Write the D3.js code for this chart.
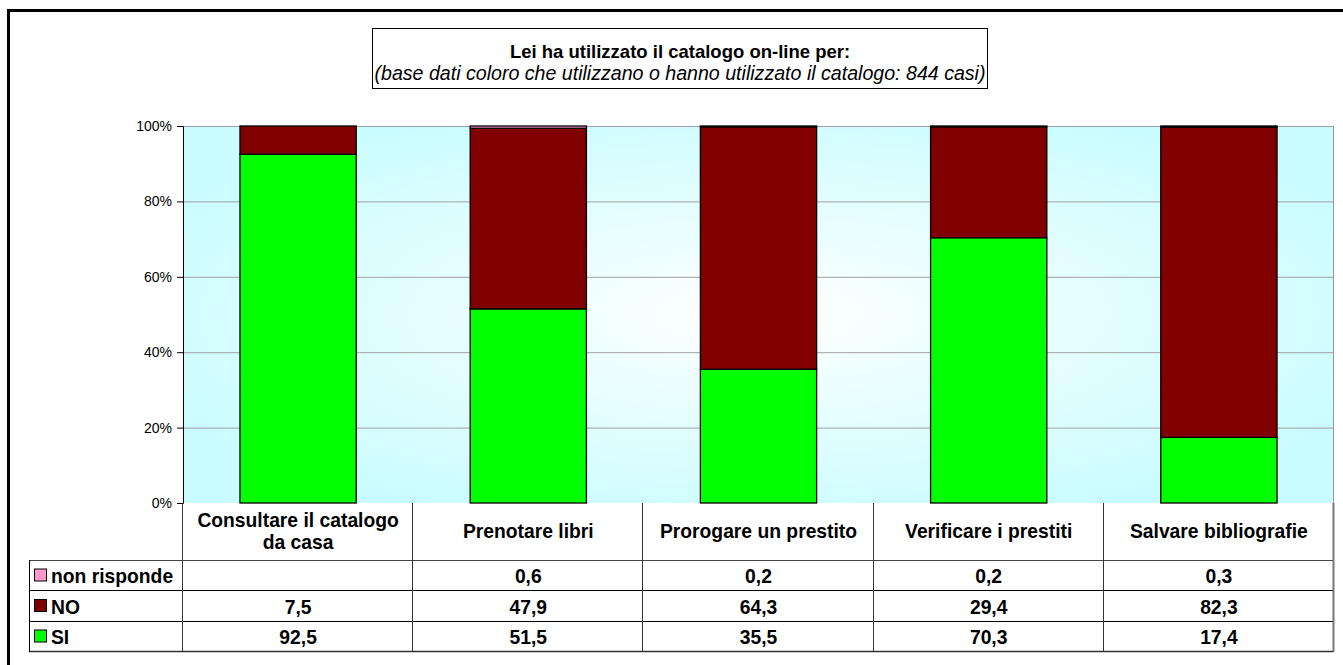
<!DOCTYPE html>
<html><head><meta charset="utf-8">
<script src="https://cdn.jsdelivr.net/npm/d3@7/dist/d3.min.js"></script>
<style>body{margin:0;background:#fff;font-family:"Liberation Sans",Arial,sans-serif;}</style>
</head><body><svg id="c" width="1343" height="665"></svg>
<script>
const categories = ["Consultare il catalogo|da casa","Prenotare libri","Prorogare un prestito","Verificare i prestiti","Salvare bibliografie"];
const seriesNames = ["SI","NO","non risponde"];
const siValues = [92.5,51.5,35.5,70.3,17.4];
const noValues = [7.5,47.9,64.3,29.4,82.3];
const nrValues = [null,0.6,0.2,0.2,0.3];
const seriesColors = ["#00FF00","#800000","#FF99CC"];
const yTicks = [0,0.2,0.4,0.6,0.8,1];
const titleText = "Lei ha utilizzato il catalogo on-line per:";
const subtitleText = "(base dati coloro che utilizzano o hanno utilizzato il catalogo: 844 casi)";

const svg = d3.select("#c");
const defs = svg.append("defs");
const rg = defs.append("radialGradient").attr("id","bg").attr("cx","50%").attr("cy","50%").attr("r","60%");
rg.append("stop").attr("offset","0%").attr("stop-color","#FFFFFF");
rg.append("stop").attr("offset","100%").attr("stop-color","#C8FCFF");

// outer frame
svg.append("path").attr("d","M8.5,700 L8.5,10.5 L1400,10.5").attr("fill","none").attr("stroke","#000").attr("stroke-width",3);

const L=183,R=1334,T=126,B=503;
const x = d3.scaleBand().domain(d3.range(categories.length)).range([L,R]).paddingInner(0).paddingOuter(0);
const y = d3.scaleLinear().domain([0,1]).range([B,T]);

svg.append("rect").attr("x",L).attr("y",T).attr("width",R-L).attr("height",B-T).attr("fill","url(#bg)");
svg.append("g").selectAll("line").data(yTicks.filter(d=>d>0)).join("line")
  .attr("x1",L).attr("x2",R).attr("y1",d=>y(d)+0.5).attr("y2",d=>y(d)+0.5).attr("stroke","#A0A0A0");
svg.append("line").attr("x1",R-0.5).attr("x2",R-0.5).attr("y1",T).attr("y2",B).attr("stroke","#999");

const data = categories.map((c,i)=>({i, SI:siValues[i], NO:noValues[i], "non risponde":nrValues[i]||0}));
const stack = d3.stack().keys(seriesNames).offset(d3.stackOffsetExpand);
const stacked = stack(data);
const bw = x.bandwidth()*0.505;
svg.append("g").selectAll("g").data(stacked).join("g").attr("fill",(d,i)=>seriesColors[i])
  .selectAll("rect").data(d=>d).join("rect")
  .attr("x",(d,i)=>x(i)+(x.bandwidth()-bw)/2)
  .attr("width",bw)
  .attr("y",d=>y(d[1]))
  .attr("height",d=>Math.max(0,y(d[0])-y(d[1])))
  .attr("stroke","#000").attr("stroke-width",1.3);

const ya = d3.axisLeft(y).tickValues(yTicks).tickFormat(d3.format(".0%")).tickSize(6);
const yg = svg.append("g").attr("transform",`translate(${L},0)`).call(ya);
yg.select(".domain").attr("stroke","#000");
yg.selectAll(".tick line").attr("stroke","#000");
yg.selectAll("text").attr("font-size",14).attr("font-family","Liberation Sans, Arial").attr("fill","#000").attr("dx",-2);

const tg = svg.append("g").attr("stroke","#000").attr("stroke-width",1);
tg.append("line").attr("x1",29).attr("x2",R).attr("y1",560.5).attr("y2",560.5).attr("stroke","#444");
[590.5,621.5].forEach(v=>tg.append("line").attr("x1",29).attr("x2",R).attr("y1",v).attr("y2",v));
tg.append("line").attr("x1",29).attr("x2",R).attr("y1",651.5).attr("y2",651.5).attr("stroke","#333").attr("stroke-width",1.5);
tg.append("line").attr("x1",29.5).attr("x2",29.5).attr("y1",560).attr("y2",652);
const colEdges = d3.range(categories.length+1).map(i=>i<categories.length?x(i):R);
colEdges.forEach((e,k)=>tg.append("line").attr("x1",Math.round(e)-0.5).attr("x2",Math.round(e)-0.5)
  .attr("y1",B).attr("y2",652).attr("stroke",k===categories.length?"#777":"#333").attr("stroke-width",k===categories.length?2:1));

const txt = svg.append("g").attr("font-family","Liberation Sans, Arial").attr("font-weight","bold").attr("font-size",19.3).attr("fill","#000");
categories.forEach((c,i)=>{
  const lines=c.split("|");
  const cx=x(i)+x.bandwidth()/2, cy=531.5;
  lines.forEach((ln,k)=>{
    txt.append("text").attr("x",cx).attr("y",cy+(k-(lines.length-1)/2)*21.5).attr("text-anchor","middle").attr("dominant-baseline","central").text(ln);
  });
});
const rows=[{name:"non risponde",vals:nrValues,color:seriesColors[2],yc:575.5},{name:"NO",vals:noValues,color:seriesColors[1],yc:606},{name:"SI",vals:siValues,color:seriesColors[0],yc:636.5}];
const fmt = v=> v==null?"":d3.format(".1f")(v).replace(".",",");
rows.forEach(r=>{
  svg.append("rect").attr("x",34.5).attr("y",r.yc-6.5).attr("width",12).attr("height",12).attr("fill",r.color).attr("stroke","#000");
  txt.append("text").attr("x",51).attr("y",r.yc+1).attr("dominant-baseline","central").text(r.name);
  r.vals.forEach((v,i)=>txt.append("text").attr("x",x(i)+x.bandwidth()/2).attr("y",r.yc+1).attr("text-anchor","middle").attr("dominant-baseline","central").text(fmt(v)));
});

svg.append("rect").attr("x",372.5).attr("y",28.5).attr("width",615).attr("height",60).attr("fill","#fff").attr("stroke","#000");
svg.append("text").attr("x",680).attr("y",51).attr("text-anchor","middle").attr("dominant-baseline","central")
  .attr("font-family","Liberation Sans, Arial").attr("font-weight","bold").attr("font-size",18.5).text(titleText);
svg.append("text").attr("x",680).attr("y",73).attr("text-anchor","middle").attr("dominant-baseline","central")
  .attr("font-family","Liberation Sans, Arial").attr("font-style","italic").attr("font-size",19.6).text(subtitleText);
</script></body></html>
